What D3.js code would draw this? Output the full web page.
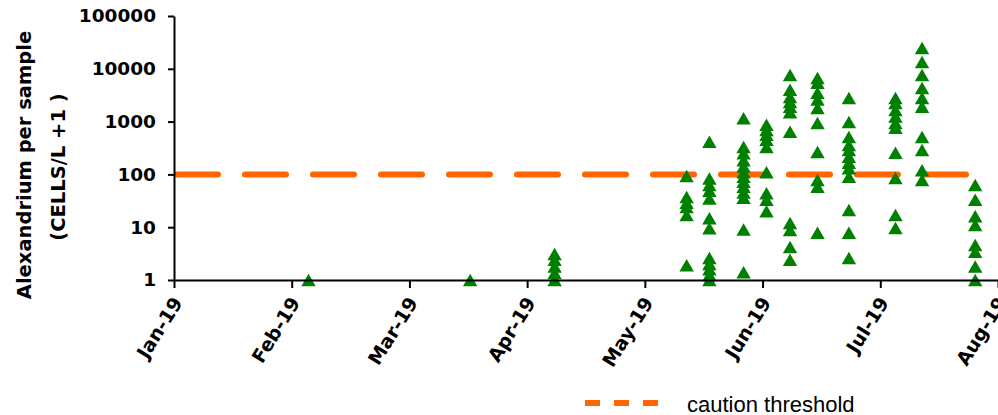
<!DOCTYPE html>
<html>
<head>
    <meta charset="utf-8" />
    <title>Alexandrium per sample</title>
    <script src="https://d3js.org/d3.v7.min.js"></script>
    <style>
        body { margin: 0; background: #fff; }
        .axis path, .axis line { stroke: #000; stroke-width: 2px; }
        .axis text { font-family: "DejaVu Sans", sans-serif; font-weight: bold; fill: #000; }
        .axis--y text { font-size: 18.5px; }
        .axis--x text { font-size: 19px; }
        .title { font-family: "DejaVu Sans", sans-serif; font-weight: bold; font-size: 19.5px; fill: #000; }
        .legend { font-family: "Liberation Sans", Arial, sans-serif; font-size: 22px; fill: #000; }
    </style>
</head>
<body>
    <div id="the-chart"></div>
    <script>
        // sampling dates and Alexandrium counts (cells/L + 1)
        var sampleDates = ["2019-02-05", "2019-03-17", "2019-04-08", "2019-05-12", "2019-05-18",
            "2019-05-27", "2019-06-02", "2019-06-08", "2019-06-15", "2019-06-23",
            "2019-07-05", "2019-07-12", "2019-07-26"];
        var cellCounts = [
            [1],
            [1],
            [1, 1.35, 1.8, 2.4, 3.1],
            [93, 37, 29, 24, 17, 1.9],
            [415, 83, 63, 49, 35, 14.7, 9.5, 2.6, 2.0, 1.6, 1.24, 1],
            [1150, 330, 250, 185, 140, 110, 90, 72, 58, 45, 36, 9, 1.4],
            [870, 690, 560, 450, 330, 110, 44, 33, 20],
            [7600, 4000, 2900, 2350, 1900, 1500, 640, 12, 8.8, 4.2, 2.4],
            [6700, 5400, 3500, 2600, 1800, 940, 265, 78, 58, 7.8],
            [2800, 980, 510, 360, 290, 215, 165, 130, 90, 21, 7.8, 2.6],
            [2800, 2250, 1650, 1250, 940, 760, 255, 85, 17, 9.6],
            [24700, 13400, 7600, 4300, 2800, 1900, 510, 290, 120, 78],
            [63, 33, 16, 11, 4.6, 3.4, 1.8, 1]
        ];
        var monthLabels = ["Jan-19", "Feb-19", "Mar-19", "Apr-19", "May-19", "Jun-19", "Jul-19", "Aug-19"];
        var yTickValues = [1, 10, 100, 1000, 10000, 100000];
        var thresholdDates = ["2019-01-01", "2019-07-24"];
        var thresholdValue = 100;

        var parseDate = d3.timeParse("%Y-%m-%d");

        // months are evenly spaced on the axis, days fill the month proportionally
        function monthPos(s) {
            var d = parseDate(s),
                days = new Date(d.getFullYear(), d.getMonth() + 1, 0).getDate();
            return d.getMonth() + (d.getDate() - 1) / days;
        }

        var svg = d3.select("#the-chart").append("svg")
            .attr("width", 998)
            .attr("height", 415);

        var x = d3.scaleLinear().domain([0, monthLabels.length - 1]).range([174, 998]),
            y = d3.scaleLog().domain([1, 100000]).range([280, 16]);

        // threshold line
        var line = d3.line()
            .x(function (d) { return x(monthPos(d)); })
            .y(function () { return y(thresholdValue); });

        svg.append("path")
            .datum(thresholdDates)
            .attr("d", line)
            .attr("fill", "none")
            .attr("stroke", "#ff6600")
            .attr("stroke-width", 6)
            .attr("stroke-linecap", "round")
            .attr("stroke-dasharray", "41,27")
            .attr("stroke-dashoffset", -3);

        // points
        var points = [];
        sampleDates.forEach(function (s, i) {
            cellCounts[i].forEach(function (v) { points.push({ date: s, value: v }); });
        });

        var tri = d3.symbol().type(d3.symbolTriangle).size(90);

        svg.append("g").selectAll("path.pt")
            .data(points)
            .enter().append("path")
            .attr("class", "pt")
            .attr("d", tri)
            .attr("fill", "#008000")
            .attr("transform", function (d) {
                return "translate(" + x(monthPos(d.date)) + "," + (y(d.value) + 2) + ")";
            });

        // axes
        svg.append("g")
            .attr("class", "axis axis--x")
            .attr("transform", "translate(0,280)")
            .call(d3.axisBottom(x)
                .tickValues(d3.range(monthLabels.length))
                .tickFormat(function (i) { return monthLabels[i]; })
                .tickSize(8)
                .tickSizeOuter(0))
            .selectAll("text")
            .style("text-anchor", "end")
            .attr("x", 0)
            .attr("y", 0)
            .attr("dy", "0.35em")
            .attr("transform", "translate(3,19) rotate(-58)");

        svg.append("g")
            .attr("class", "axis axis--y")
            .attr("transform", "translate(174,0)")
            .call(d3.axisLeft(y)
                .tickValues(yTickValues)
                .tickFormat(d3.format("d"))
                .tickSize(6)
                .tickSizeOuter(0)
                .tickPadding(12));

        // axis title
        svg.append("text")
            .attr("class", "title")
            .attr("text-anchor", "middle")
            .attr("transform", "translate(31,165) rotate(-90)")
            .text("Alexandrium per sample");

        svg.append("text")
            .attr("class", "title")
            .attr("text-anchor", "middle")
            .attr("transform", "translate(65,167) rotate(-90)")
            .text("(CELLS/L +1 )");

        // legend
        svg.append("line")
            .attr("x1", 585).attr("x2", 658)
            .attr("y1", 403).attr("y2", 403)
            .attr("stroke", "#ff6600")
            .attr("stroke-width", 6)
            .attr("stroke-dasharray", "15,14");

        svg.append("text")
            .attr("class", "legend")
            .attr("x", 687)
            .attr("y", 412)
            .text("caution threshold");
    </script>
</body>
</html>
